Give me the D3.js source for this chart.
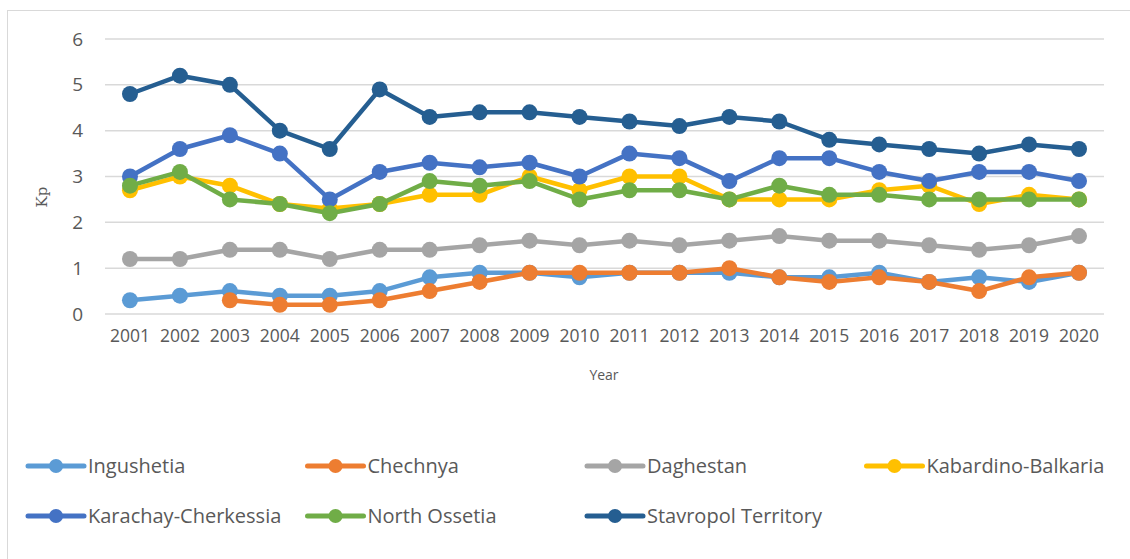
<!DOCTYPE html>
<html>
<head>
<meta charset="utf-8">
<script src="https://cdn.jsdelivr.net/npm/d3@7"></script>
<style>
  body { margin: 0; background: #fff; }
  svg { display: block; }
</style>
</head>
<body>
<div id="chart"></div>
<script>
// Kp by region, 2001-2020
const years = ["2001","2002","2003","2004","2005","2006","2007","2008","2009","2010",
               "2011","2012","2013","2014","2015","2016","2017","2018","2019","2020"];
const yTicks = [0, 1, 2, 3, 4, 5, 6];

const seriesNames = ["Ingushetia", "Chechnya", "Daghestan", "Kabardino-Balkaria",
                     "Karachay-Cherkessia", "North Ossetia", "Stavropol Territory"];
const seriesColors = ["#5B9BD5", "#ED7D31", "#A5A5A5", "#FFC000", "#4472C4", "#70AD47", "#255E91"];

const ingushetia = [0.3,0.4,0.5,0.4,0.4,0.5,0.8,0.9,0.9,0.8,0.9,0.9,0.9,0.8,0.8,0.9,0.7,0.8,0.7,0.9];
const chechnya   = [null,null,0.3,0.2,0.2,0.3,0.5,0.7,0.9,0.9,0.9,0.9,1.0,0.8,0.7,0.8,0.7,0.5,0.8,0.9];
const daghestan  = [1.2,1.2,1.4,1.4,1.2,1.4,1.4,1.5,1.6,1.5,1.6,1.5,1.6,1.7,1.6,1.6,1.5,1.4,1.5,1.7];
const kabardino  = [2.7,3.0,2.8,2.4,2.3,2.4,2.6,2.6,3.0,2.7,3.0,3.0,2.5,2.5,2.5,2.7,2.8,2.4,2.6,2.5];
const karachay   = [3.0,3.6,3.9,3.5,2.5,3.1,3.3,3.2,3.3,3.0,3.5,3.4,2.9,3.4,3.4,3.1,2.9,3.1,3.1,2.9];
const ossetia    = [2.8,3.1,2.5,2.4,2.2,2.4,2.9,2.8,2.9,2.5,2.7,2.7,2.5,2.8,2.6,2.6,2.5,2.5,2.5,2.5];
const stavropol  = [4.8,5.2,5.0,4.0,3.6,4.9,4.3,4.4,4.4,4.3,4.2,4.1,4.3,4.2,3.8,3.7,3.6,3.5,3.7,3.6];

const seriesValues = [ingushetia, chechnya, daghestan, kabardino, karachay, ossetia, stavropol];

const width = 1130, height = 559;
const plot = { left: 105, right: 1104, top: 39, bottom: 314 };
const sansFont = "'Open Sans', sans-serif";
const textColor = "#595959";

const svg = d3.select("#chart").append("svg")
    .attr("width", width)
    .attr("height", height);

// outer chart frame (only top and left edges are visible)
svg.append("rect")
    .attr("x", 7.5).attr("y", 10.5)
    .attr("width", 1200).attr("height", 700)
    .attr("fill", "none")
    .attr("stroke", "#d9d9d9")
    .attr("stroke-width", 1);

const x = d3.scaleBand()
    .domain(years)
    .range([plot.left, plot.right]);

const y = d3.scaleLinear()
    .domain([0, 6])
    .range([plot.bottom, plot.top]);

// gridlines
svg.append("g")
    .selectAll("line")
    .data(yTicks)
    .join("line")
    .attr("x1", plot.left).attr("x2", plot.right)
    .attr("y1", d => y(d)).attr("y2", d => y(d))
    .attr("stroke", "#d9d9d9")
    .attr("stroke-width", 1.5);

// y axis labels
const yAxis = svg.append("g")
    .attr("transform", `translate(${plot.left - 22},0)`)
    .call(d3.axisLeft(y).tickValues(yTicks).tickFormat(d3.format("d")).tickSize(0).tickPadding(0));
yAxis.select(".domain").remove();
yAxis.selectAll("text")
    .attr("font-family", sansFont)
    .attr("font-size", 19)
    .attr("fill", textColor);

// x axis labels
const xAxis = svg.append("g")
    .attr("transform", `translate(0,${plot.bottom + 16})`)
    .call(d3.axisBottom(x).tickSize(0).tickPadding(0));
xAxis.select(".domain").remove();
xAxis.selectAll("text")
    .attr("font-family", sansFont)
    .attr("font-size", 17.5)
    .attr("fill", textColor);

// axis titles
svg.append("text")
    .attr("x", 604).attr("y", 380)
    .attr("text-anchor", "middle")
    .attr("font-family", sansFont)
    .attr("font-size", 14)
    .attr("fill", textColor)
    .text("Year");

svg.append("text")
    .attr("transform", "translate(47,197) rotate(-90)")
    .attr("text-anchor", "middle")
    .attr("font-family", "'DejaVu Serif', serif")
    .attr("font-size", 15)
    .attr("fill", textColor)
    .text("Kp");

// series lines and markers
const line = d3.line()
    .defined(d => d.v !== null)
    .x(d => x(d.year) + x.bandwidth() / 2)
    .y(d => y(d.v));

seriesNames.forEach((name, i) => {
    const pts = years.map((yr, j) => ({ year: yr, v: seriesValues[i][j] }));
    const g = svg.append("g");
    g.append("path")
        .datum(pts)
        .attr("d", line)
        .attr("fill", "none")
        .attr("stroke", seriesColors[i])
        .attr("stroke-width", 4.5)
        .attr("stroke-linejoin", "round");
    g.selectAll("circle")
        .data(pts.filter(d => d.v !== null))
        .join("circle")
        .attr("cx", d => x(d.year) + x.bandwidth() / 2)
        .attr("cy", d => y(d.v))
        .attr("r", 8)
        .attr("fill", seriesColors[i]);
});

// legend: 4 columns, 2 rows
const legend = svg.append("g");
seriesNames.forEach((name, i) => {
    const col = i % 4, row = Math.floor(i / 4);
    const lx = 28 + col * 279.5;
    const ly = 466 + row * 50;
    const item = legend.append("g").attr("transform", `translate(${lx},${ly})`);
    item.append("line")
        .attr("x1", 0).attr("x2", 56)
        .attr("stroke", seriesColors[i])
        .attr("stroke-width", 5)
        .attr("stroke-linecap", "round");
    item.append("circle")
        .attr("cx", 28).attr("r", 7)
        .attr("fill", seriesColors[i]);
    item.append("text")
        .attr("x", 60).attr("dy", "0.35em")
        .attr("font-family", sansFont)
        .attr("font-size", 20)
        .attr("fill", textColor)
        .text(name);
});
</script>
</body>
</html>
